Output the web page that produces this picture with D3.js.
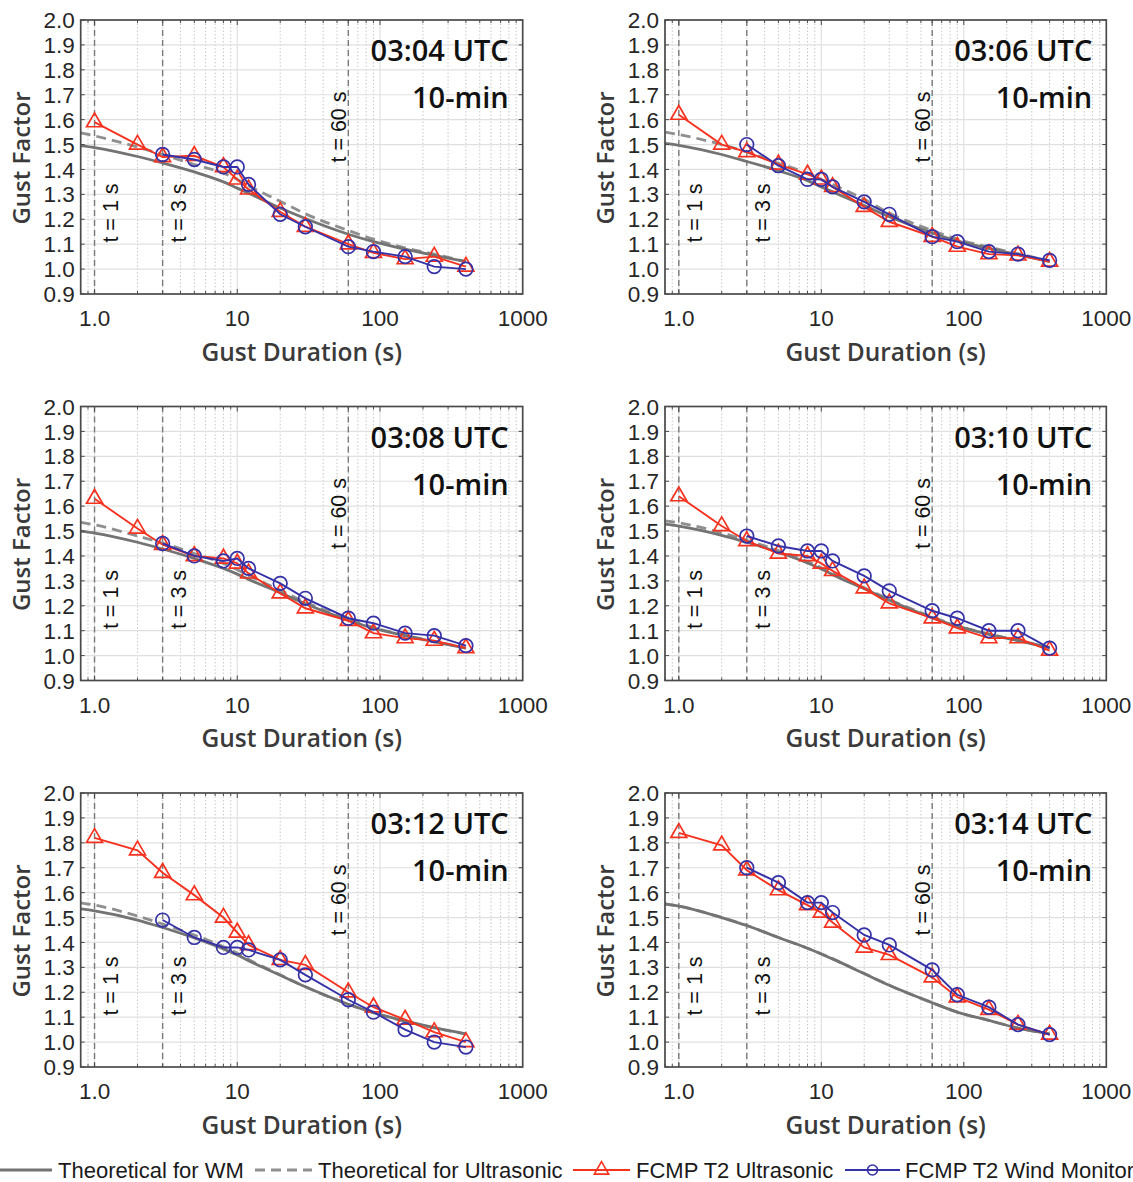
<!DOCTYPE html>
<html><head><meta charset="utf-8">
<script src="https://cdn.jsdelivr.net/npm/d3@7"></script>
<style>body{margin:0;background:#fff} svg{display:block;overflow:hidden}</style>
</head><body><svg id="c" width="1133" height="1182"></svg>
<script>
// ---------- DATA ----------
const panelTitles = ["03:04 UTC", "03:06 UTC", "03:08 UTC", "03:10 UTC", "03:12 UTC", "03:14 UTC"];
const panelSubtitle = "10-min";
const usDurations = [1, 2, 3, 5, 8, 10, 12, 20, 30, 60, 90, 150, 240, 400];
const wmDurations = [3, 5, 8, 10, 12, 20, 30, 60, 90, 150, 240, 400];
const theoryDurations = [0.8, 1, 2, 3, 5, 8, 10, 12, 20, 30, 60, 90, 150, 240, 400];
const xTickValues = [1, 10, 100, 1000];
const xTickLabels = ["1.0", "10", "100", "1000"];
const yTickValues = [0.9, 1.0, 1.1, 1.2, 1.3, 1.4, 1.5, 1.6, 1.7, 1.8, 1.9, 2.0];
const refDurations = [1, 3, 60];
const refLabels = ["t = 1 s", "t = 3 s", "t = 60 s"];

const ultrasonic = [
  [1.59, 1.50, 1.45, 1.455, 1.41, 1.36, 1.32, 1.23, 1.17, 1.10, 1.065, 1.04, 1.05, 1.01],
  [1.62, 1.50, 1.47, 1.42, 1.38, 1.36, 1.33, 1.25, 1.19, 1.13, 1.09, 1.06, 1.055, 1.03],
  [1.63, 1.51, 1.445, 1.40, 1.39, 1.37, 1.33, 1.25, 1.19, 1.14, 1.09, 1.07, 1.06, 1.03],
  [1.64, 1.52, 1.46, 1.41, 1.40, 1.37, 1.34, 1.27, 1.21, 1.15, 1.11, 1.07, 1.07, 1.02],
  [1.82, 1.77, 1.68, 1.59, 1.50, 1.44, 1.39, 1.33, 1.31, 1.20, 1.14, 1.09, 1.04, 1.00],
  [1.84, 1.79, 1.69, 1.61, 1.55, 1.52, 1.48, 1.38, 1.35, 1.26, 1.18, 1.13, 1.07, 1.03]
];
const windMonitor = [
  [1.46, 1.44, 1.41, 1.41, 1.34, 1.22, 1.17, 1.09, 1.07, 1.05, 1.01, 1.00],
  [1.50, 1.415, 1.36, 1.36, 1.33, 1.27, 1.22, 1.13, 1.11, 1.07, 1.06, 1.035],
  [1.45, 1.40, 1.38, 1.39, 1.35, 1.29, 1.23, 1.15, 1.13, 1.09, 1.08, 1.04],
  [1.48, 1.44, 1.42, 1.42, 1.38, 1.32, 1.26, 1.18, 1.15, 1.10, 1.10, 1.03],
  [1.49, 1.42, 1.38, 1.38, 1.37, 1.33, 1.27, 1.17, 1.12, 1.05, 1.00, 0.98],
  [1.70, 1.64, 1.56, 1.56, 1.52, 1.43, 1.39, 1.29, 1.19, 1.14, 1.07, 1.03]
];
const theoryWM = [
  [1.496, 1.488, 1.452, 1.426, 1.39, 1.35, 1.325, 1.305, 1.245, 1.203, 1.14, 1.11, 1.08, 1.055, 1.03],
  [1.505, 1.497, 1.46, 1.432, 1.395, 1.355, 1.33, 1.31, 1.255, 1.21, 1.145, 1.113, 1.083, 1.058, 1.03],
  [1.50, 1.492, 1.455, 1.428, 1.39, 1.35, 1.327, 1.306, 1.252, 1.208, 1.142, 1.11, 1.08, 1.055, 1.03],
  [1.528, 1.52, 1.483, 1.455, 1.415, 1.372, 1.348, 1.325, 1.268, 1.222, 1.152, 1.118, 1.085, 1.06, 1.032],
  [1.535, 1.527, 1.49, 1.46, 1.418, 1.374, 1.35, 1.327, 1.268, 1.222, 1.152, 1.118, 1.085, 1.058, 1.033],
  [1.555, 1.546, 1.50, 1.468, 1.42, 1.377, 1.354, 1.334, 1.275, 1.228, 1.158, 1.12, 1.087, 1.056, 1.033]
];
const theoryUS = [
  [1.547, 1.535, 1.49, 1.46, 1.42, 1.385, 1.36, 1.335, 1.272, 1.222, 1.155, 1.12, 1.085, 1.06, 1.03],
  [1.55, 1.54, 1.50, 1.47, 1.425, 1.385, 1.36, 1.34, 1.28, 1.225, 1.155, 1.12, 1.088, 1.062, 1.032],
  [1.535, 1.525, 1.48, 1.452, 1.41, 1.37, 1.345, 1.322, 1.262, 1.215, 1.147, 1.113, 1.082, 1.057, 1.03],
  [1.541, 1.533, 1.493, 1.463, 1.422, 1.378, 1.353, 1.33, 1.272, 1.225, 1.155, 1.12, 1.087, 1.061, 1.032],
  [1.559, 1.55, 1.506, 1.474, 1.43, 1.383, 1.357, 1.332, 1.27, 1.222, 1.152, 1.118, 1.083, 1.057, 1.032],
  [1.555, 1.546, 1.50, 1.468, 1.42, 1.377, 1.354, 1.334, 1.275, 1.228, 1.158, 1.12, 1.087, 1.056, 1.033]
];
const legendLabels = ["Theoretical for WM", "Theoretical for Ultrasonic", "FCMP T2 Ultrasonic", "FCMP T2 Wind Monitor"];

// ---------- STYLE / LAYOUT ----------
const C = {
  red: "#f5321f", blue: "#3531a6", gSolid: "#737373", gDash: "#8f8f8f",
  ref: "#7a7a7a", frame: "#4a4a4a", grid: "#e0e0e0", minor: "#c8c8c8", tick: "#262626"
};
const TICKF = "'Liberation Sans', Arial, sans-serif";
const TITLEF = "'Open Sans', 'Noto Sans', sans-serif";
const cols = [{l: 80.7, r: 522.7}, {l: 665, r: 1106.3}];
const tops = [20, 406.5, 793];
const PH = 274;
const TRI = 110;

const svg = d3.select("#c");

function panel(i) {
  const col = cols[i % 2], top = tops[Math.floor(i / 2)], bot = top + PH;
  const x = d3.scaleLog().domain([0.8, 1000]).range([col.l, col.r]);
  const y = d3.scaleLinear().domain([0.9, 2.0]).range([bot, top]);
  const g = svg.append("g");

  // minor x grid
  const minors = [];
  [0.1, 1, 10, 100].forEach(dec => { for (let k = 2; k <= 9; k++) { const v = dec * k; if (v >= 0.8 && v < 1000) minors.push(v); } });
  g.selectAll(".mg").data(minors).join("line")
    .attr("x1", d => x(d)).attr("x2", d => x(d)).attr("y1", top).attr("y2", bot)
    .attr("stroke", C.minor).attr("stroke-width", 1).attr("stroke-dasharray", "1.5,2");
  // major x grid
  g.selectAll(".Mg").data([1, 10, 100]).join("line")
    .attr("x1", d => x(d)).attr("x2", d => x(d)).attr("y1", top).attr("y2", bot)
    .attr("stroke", C.grid).attr("stroke-width", 1.2);
  // y grid
  g.selectAll(".yg").data(yTickValues.slice(1, -1)).join("line")
    .attr("x1", col.l).attr("x2", col.r).attr("y1", d => y(d)).attr("y2", d => y(d))
    .attr("stroke", C.grid).attr("stroke-width", 1.2);

  // reference lines
  g.selectAll(".ref").data(refDurations).join("line")
    .attr("x1", d => x(d)).attr("x2", d => x(d)).attr("y1", top).attr("y2", bot)
    .attr("stroke", C.ref).attr("stroke-width", 1.4).attr("stroke-dasharray", "6,4");

  // theoretical curves
  const tl = d3.line().x(d => x(d[0])).y(d => y(d[1])).curve(d3.curveMonotoneX);
  g.append("path").attr("d", tl(theoryDurations.map((d, k) => [d, theoryUS[i][k]])))
    .attr("fill", "none").attr("stroke", C.gDash).attr("stroke-width", 2.8).attr("stroke-dasharray", "10,6");
  g.append("path").attr("d", tl(theoryDurations.map((d, k) => [d, theoryWM[i][k]])))
    .attr("fill", "none").attr("stroke", C.gSolid).attr("stroke-width", 2.8);

  // data
  const dl = d3.line().x(d => x(d[0])).y(d => y(d[1]));
  const us = usDurations.map((d, k) => [d, ultrasonic[i][k]]);
  const wm = wmDurations.map((d, k) => [d, windMonitor[i][k]]);
  g.append("path").attr("d", dl(us)).attr("fill", "none").attr("stroke", C.red).attr("stroke-width", 1.9);
  g.selectAll(".tri").data(us).join("path")
    .attr("d", d3.symbol(d3.symbolTriangle, TRI)())
    .attr("transform", d => `translate(${x(d[0])},${y(d[1])})`)
    .attr("fill", "none").attr("stroke", C.red).attr("stroke-width", 1.7);
  g.append("path").attr("d", dl(wm)).attr("fill", "none").attr("stroke", C.blue).attr("stroke-width", 1.9);
  g.selectAll(".cir").data(wm).join("circle")
    .attr("cx", d => x(d[0])).attr("cy", d => y(d[1])).attr("r", 6.8)
    .attr("fill", "none").attr("stroke", C.blue).attr("stroke-width", 1.7);

  // ticks (inside, all four sides)
  const tk = g.append("g").attr("stroke", C.frame).attr("stroke-width", 1);
  yTickValues.forEach(v => {
    tk.append("line").attr("x1", col.l).attr("x2", col.l + 4).attr("y1", y(v)).attr("y2", y(v));
    tk.append("line").attr("x1", col.r).attr("x2", col.r - 4).attr("y1", y(v)).attr("y2", y(v));
  });
  minors.concat([1, 10, 100]).forEach(v => {
    const len = [1, 10, 100].includes(v) ? 5 : 3;
    tk.append("line").attr("x1", x(v)).attr("x2", x(v)).attr("y1", bot).attr("y2", bot - len);
    tk.append("line").attr("x1", x(v)).attr("x2", x(v)).attr("y1", top).attr("y2", top + len);
  });

  // frame
  g.append("rect").attr("x", col.l).attr("y", top).attr("width", col.r - col.l).attr("height", PH)
    .attr("fill", "none").attr("stroke", C.frame).attr("stroke-width", 1.7);

  // tick labels
  g.selectAll(".yl").data(yTickValues).join("text")
    .attr("x", col.l - 6).attr("y", d => y(d)).attr("dy", "0.36em").attr("text-anchor", "end")
    .attr("font-family", TICKF).attr("font-size", 22.5).attr("fill", C.tick)
    .text(d => d.toFixed(1));
  g.selectAll(".xl").data(xTickValues).join("text")
    .attr("x", d => x(d)).attr("y", bot + 24).attr("dy", "0.36em").attr("text-anchor", "middle")
    .attr("font-family", TICKF).attr("font-size", 22.5).attr("fill", C.tick)
    .text((d, k) => xTickLabels[k]);

  // axis titles
  g.append("text").attr("transform", `translate(${col.l - 59},${top + 138}) rotate(-90)`)
    .attr("dy", "0.35em").attr("text-anchor", "middle")
    .attr("font-family", TITLEF).attr("font-weight", 600).attr("font-size", 24).attr("fill", "#3a3a3a")
    .text("Gust Factor");
  g.append("text").attr("x", (col.l + col.r) / 2).attr("y", bot + 58).attr("dy", "0.35em")
    .attr("text-anchor", "middle")
    .attr("font-family", TITLEF).attr("font-weight", 600).attr("font-size", 24.5).attr("fill", "#3a3a3a")
    .text("Gust Duration (s)");

  // reference labels
  const refPos = [{dx: 16, cy: 193}, {dx: 16, cy: 193}, {dx: -10, cy: 107}];
  refDurations.forEach((d, k) => {
    g.append("text").attr("transform", `translate(${x(d) + refPos[k].dx},${top + refPos[k].cy}) rotate(-90)`)
      .attr("dy", "0.35em").attr("text-anchor", "middle")
      .attr("font-family", TICKF).attr("font-size", 21.5).attr("fill", "#111")
      .text(refLabels[k]);
  });

  // titles
  g.append("text").attr("x", col.r - 14).attr("y", top + 41).attr("text-anchor", "end")
    .attr("font-family", TITLEF).attr("font-weight", 600).attr("font-size", 29).attr("fill", "#111")
    .text(panelTitles[i]);
  g.append("text").attr("x", col.r - 14).attr("y", top + 88).attr("text-anchor", "end")
    .attr("font-family", TITLEF).attr("font-weight", 600).attr("font-size", 29).attr("fill", "#111")
    .text(panelSubtitle);
}
for (let i = 0; i < 6; i++) panel(i);

// ---------- LEGEND ----------
const ly = 1170;
const lg = svg.append("g");
const items = [
  {x1: 0, x2: 52, tx: 58, stroke: C.gSolid, dash: null, w: 2.8, m: null},
  {x1: 255, x2: 312, tx: 318, stroke: C.gDash, dash: "10,6", w: 2.8, m: null},
  {x1: 573, x2: 630, tx: 636, stroke: C.red, dash: null, w: 1.9, m: "tri"},
  {x1: 845, x2: 900, tx: 905, stroke: C.blue, dash: null, w: 1.9, m: "cir"}
];
items.forEach((it, k) => {
  lg.append("line").attr("x1", it.x1).attr("x2", it.x2).attr("y1", ly).attr("y2", ly)
    .attr("stroke", it.stroke).attr("stroke-width", it.w).attr("stroke-dasharray", it.dash);
  const cx = (it.x1 + it.x2) / 2;
  if (it.m === "tri") lg.append("path").attr("d", d3.symbol(d3.symbolTriangle, 90)())
    .attr("transform", `translate(${cx},${ly})`).attr("fill", "none").attr("stroke", it.stroke).attr("stroke-width", 1.6);
  if (it.m === "cir") lg.append("circle").attr("cx", cx).attr("cy", ly).attr("r", 5)
    .attr("fill", "none").attr("stroke", it.stroke).attr("stroke-width", 1.6);
  lg.append("text").attr("x", it.tx).attr("y", ly).attr("dy", "0.35em")
    .attr("font-family", TICKF).attr("font-size", 22).attr("fill", "#1a1a1a")
    .text(legendLabels[k]);
});
</script></body></html>
